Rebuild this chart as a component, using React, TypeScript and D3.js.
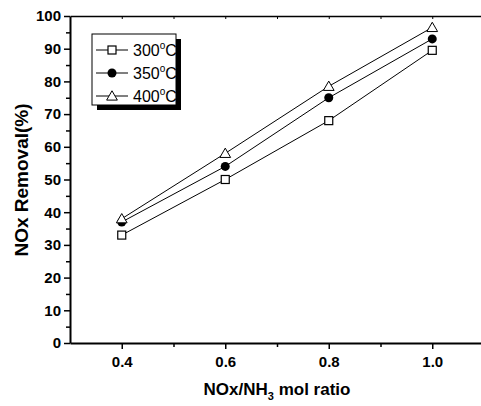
import React, { useEffect, useRef } from 'react';
import * as d3 from 'd3';

const ratios = [0.4, 0.6, 0.8, 1.0];
const removal300 = [33, 50, 68, 89.5];
const removal350 = [37, 54, 75, 93];
const removal400 = [38, 58, 78.5, 96.5];
const seriesNames = ['300', '350', '400'];
const xTicks = [0.4, 0.6, 0.8, 1.0];
const yTicks = [0, 10, 20, 30, 40, 50, 60, 70, 80, 90, 100];

const App = () => {
  const svgRef = useRef(null);

  useEffect(() => {
    const svg = d3.select(svgRef.current);
    svg.selectAll('*').remove();

    const width = 481;
    const height = 406;
    const margin = { top: 16, left: 70, bottom: 63 };
    const font = 'Liberation Sans, Arial, sans-serif';

    const x = d3.scaleLinear().domain([0.3, 1.1]).range([margin.left, margin.left + 414]);
    const y = d3.scaleLinear().domain([0, 100]).range([height - margin.bottom, margin.top]);

    // bottom axis
    const xAxis = svg.append('g')
      .attr('transform', `translate(0, ${y(0)})`)
      .call(d3.axisBottom(x).tickValues(xTicks).tickFormat(d3.format('.1f')).tickSize(6).tickSizeOuter(0));
    xAxis.select('.domain').attr('stroke-width', 2);
    xAxis.selectAll('.tick line').attr('stroke-width', 1.5);
    xAxis.selectAll('.tick text')
      .attr('font-family', font).attr('font-weight', 'bold').attr('font-size', 15).attr('y', 10).attr('dy', '0.9em');
    svg.append('g')
      .attr('transform', `translate(0, ${y(0)})`)
      .call(d3.axisBottom(x).tickValues([0.5, 0.7, 0.9]).tickFormat(() => '').tickSize(4).tickSizeOuter(0))
      .call(g => g.select('.domain').remove())
      .selectAll('.tick line').attr('stroke-width', 1.5);

    // top axis (inward ticks)
    svg.append('g')
      .attr('transform', `translate(0, ${y(100)})`)
      .call(d3.axisBottom(x).tickValues([0.4, 0.5, 0.6, 0.7, 0.8, 0.9, 1.0]).tickFormat(() => '').tickSize(3).tickSizeOuter(0))
      .call(g => g.select('.domain').attr('stroke-width', 1.5));

    // left axis
    const yAxis = svg.append('g')
      .attr('transform', `translate(${margin.left}, 0)`)
      .call(d3.axisLeft(y).tickValues(yTicks).tickSize(6).tickSizeOuter(0));
    yAxis.select('.domain').attr('stroke-width', 2);
    yAxis.selectAll('.tick line').attr('stroke-width', 1.5);
    yAxis.selectAll('.tick text')
      .attr('font-family', font).attr('font-weight', 'bold').attr('font-size', 15).attr('x', -9);
    svg.append('g')
      .attr('transform', `translate(${margin.left}, 0)`)
      .call(d3.axisLeft(y).tickValues(d3.range(5, 100, 10)).tickFormat(() => '').tickSize(4).tickSizeOuter(0))
      .call(g => g.select('.domain').remove())
      .selectAll('.tick line').attr('stroke-width', 1.5);

    svg.selectAll('.tick text').attr('fill', '#000');

    const series = [removal300, removal350, removal400];
    const line = d3.line<number>()
      .x((d, i) => x(ratios[i]))
      .y(d => y(d));

    series.forEach(values => {
      svg.append('path')
        .datum(values)
        .attr('fill', 'none')
        .attr('stroke', '#000')
        .attr('stroke-width', 1)
        .attr('d', line);
    });

    const drawMarker = (g, kind, cx, cy) => {
      if (kind === 0) {
        g.append('rect').attr('x', cx - 4).attr('y', cy - 4).attr('width', 8).attr('height', 8)
          .attr('fill', '#fff').attr('stroke', '#000').attr('stroke-width', 1.2);
      } else if (kind === 1) {
        g.append('circle').attr('cx', cx).attr('cy', cy).attr('r', 4.5).attr('fill', '#000');
      } else {
        g.append('path')
          .attr('d', d3.symbol(d3.symbolTriangle, 50)())
          .attr('transform', `translate(${cx}, ${cy + 1})`)
          .attr('fill', '#fff').attr('stroke', '#000').attr('stroke-width', 1);
      }
    };

    series.forEach((values, k) => {
      values.forEach((v, i) => drawMarker(svg, k, x(ratios[i]), y(v)));
    });

    // legend
    const legend = svg.append('g').attr('transform', 'translate(92, 34)');
    legend.append('rect').attr('x', 5).attr('y', 5).attr('width', 84).attr('height', 71).attr('fill', '#000');
    legend.append('rect').attr('x', 0).attr('y', 0).attr('width', 84).attr('height', 71)
      .attr('fill', '#fff').attr('stroke', '#000').attr('stroke-width', 1);
    seriesNames.forEach((name, k) => {
      const ly = 16 + k * 23;
      legend.append('line').attr('x1', 4).attr('x2', 36).attr('y1', ly).attr('y2', ly)
        .attr('stroke', '#000').attr('stroke-width', 1);
      drawMarker(legend, k, 20, ly);
      const t = legend.append('text').attr('x', 41).attr('y', ly + 6)
        .attr('font-family', font).attr('font-size', 16);
      t.append('tspan').text(name);
      t.append('tspan').attr('font-size', 10).attr('dy', -7).text('o');
      t.append('tspan').attr('dy', 7).text('C');
    });

    // axis titles
    const xt = svg.append('text')
      .attr('x', 277).attr('y', 395)
      .attr('text-anchor', 'middle')
      .attr('font-family', font).attr('font-weight', 'bold').attr('font-size', 17);
    xt.append('tspan').text('NOx/NH');
    xt.append('tspan').attr('font-size', 11).attr('dy', 5).text('3');
    xt.append('tspan').attr('dy', -5).text(' mol ratio');

    svg.append('text')
      .attr('transform', `translate(28, 180) rotate(-90)`)
      .attr('text-anchor', 'middle')
      .attr('font-family', font).attr('font-weight', 'bold').attr('font-size', 19)
      .text('NOx Removal(%)');
  });

  return (
    <svg ref={svgRef} width="481" height="406" style={{ position: 'absolute', left: 0, top: 0 }}></svg>
  );
};

export default App;
